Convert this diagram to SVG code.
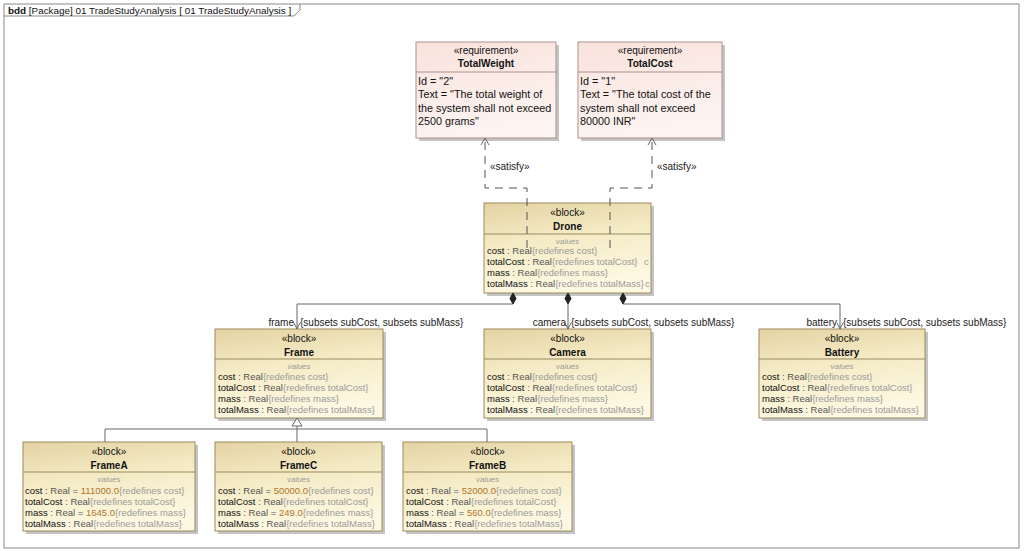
<svg xmlns="http://www.w3.org/2000/svg" width="1024" height="551" viewBox="0 0 1024 551">
<defs>
<linearGradient id="gBlock" x1="0" y1="0" x2="0.25" y2="1">
<stop offset="0" stop-color="#e4d3a3"/>
<stop offset="0.45" stop-color="#f4eac4"/>
<stop offset="1" stop-color="#fdf8e2"/>
</linearGradient>
<linearGradient id="gReq" x1="0" y1="0" x2="0.25" y2="1">
<stop offset="0" stop-color="#f9e2dc"/>
<stop offset="1" stop-color="#fdf4f1"/>
</linearGradient>
</defs>
<style>
text{font-family:"Liberation Sans",Arial,sans-serif;fill:#111}
.frm{fill:#fff;stroke:#8a8a8a;stroke-width:1}
.shadow{fill:#c4c4c4}
.blk{fill:url(#gBlock);stroke:#9c8a5c;stroke-width:1}
.req{fill:url(#gReq);stroke:#b09090;stroke-width:1}
.sepB{stroke:#9c8a5c;stroke-width:1}
.sepR{stroke:#b09090;stroke-width:1}
.st{font-size:10px;text-anchor:middle}
.nm{font-size:10px;font-weight:bold;text-anchor:middle}
.vl{font-size:8px;font-style:italic;fill:#9a9a9a;text-anchor:middle}
.p{font-size:9.5px}
.t{fill:#555}
.r{fill:#9b9b9b}
.v{fill:#b0742a}
.rq{font-size:10.8px}
.lbl{font-size:10px;fill:#222}
.ln{fill:none;stroke:#666;stroke-width:1}
.dash{fill:none;stroke:#555;stroke-width:1;stroke-dasharray:8 6}
.dia{fill:#222;stroke:#222;stroke-width:1}
.tri{fill:#fff;stroke:#666;stroke-width:1}
</style>
<rect width="1024" height="551" fill="#fff"/>
<g id="diagramFrame">
<rect class="frm" x="4" y="4" width="1015" height="544"/>
<path d="M4,16 H294 L300,10 V4" fill="none" stroke="#8a8a8a" stroke-width="1"/>
<text x="8" y="13.5" font-size="9.9"><tspan font-weight="bold">bdd</tspan> [Package] 01 TradeStudyAnalysis [ 01 TradeStudyAnalysis ]</text>
</g>
<g id="TotalWeight">
<rect class="shadow" x="419" y="45" width="140" height="96"/>
<rect class="req" x="416" y="42" width="140" height="96"/>
<text class="st" x="486" y="53.5">«requirement»</text>
<text class="nm" x="486" y="67">TotalWeight</text>
<line class="sepR" x1="416" y1="72" x2="556" y2="72"/>
<text class="rq" x="418" y="84.5">Id = "2"</text>
<text class="rq" x="418" y="98">Text = "The total weight of</text>
<text class="rq" x="418" y="111.5">the system shall not exceed</text>
<text class="rq" x="418" y="125">2500 grams"</text>
</g>
<g id="TotalCost">
<rect class="shadow" x="581" y="45" width="144" height="96"/>
<rect class="req" x="578" y="42" width="144" height="96"/>
<text class="st" x="650" y="53.5">«requirement»</text>
<text class="nm" x="650" y="67">TotalCost</text>
<line class="sepR" x1="578" y1="72" x2="722" y2="72"/>
<text class="rq" x="580" y="84.5">Id = "1"</text>
<text class="rq" x="580" y="98">Text = "The total cost of the</text>
<text class="rq" x="580" y="111.5">system shall not exceed</text>
<text class="rq" x="580" y="125">80000 INR"</text>
</g>
<g id="Drone">
<rect class="shadow" x="487" y="206" width="167" height="90"/>
<rect class="blk" x="484" y="203" width="167" height="90"/>
<text class="st" x="567.5" y="215.5">«block»</text>
<text class="nm" x="567.5" y="229.5">Drone</text>
<line class="sepB" x1="484" y1="234" x2="651" y2="234"/>
<text class="vl" x="567.5" y="243.5">values</text>
<text class="p" x="487" y="254"><tspan>cost</tspan><tspan class="t"> : Real</tspan><tspan class="r">{redefines cost}</tspan></text>
<text class="p" x="487" y="265"><tspan>totalCost</tspan><tspan class="t"> : Real</tspan><tspan class="r">{redefines totalCost}</tspan></text>
<text class="p r" x="644" y="265">c</text>
<text class="p" x="487" y="276"><tspan>mass</tspan><tspan class="t"> : Real</tspan><tspan class="r">{redefines mass}</tspan></text>
<text class="p" x="487" y="287"><tspan>totalMass</tspan><tspan class="t"> : Real</tspan><tspan class="r">{redefines totalMass}</tspan></text>
<text class="p r" x="645" y="287">c</text>
</g>
<g id="Frame">
<rect class="shadow" x="218" y="332" width="168" height="89"/>
<rect class="blk" x="215" y="329" width="168" height="89"/>
<text class="st" x="299" y="341.5">«block»</text>
<text class="nm" x="299" y="355.5">Frame</text>
<line class="sepB" x1="215" y1="359" x2="383" y2="359"/>
<text class="vl" x="299" y="369">values</text>
<text class="p" x="218" y="379.5"><tspan>cost</tspan><tspan class="t"> : Real</tspan><tspan class="r">{redefines cost}</tspan></text>
<text class="p" x="218" y="390.5"><tspan>totalCost</tspan><tspan class="t"> : Real</tspan><tspan class="r">{redefines totalCost}</tspan></text>
<text class="p" x="218" y="401.5"><tspan>mass</tspan><tspan class="t"> : Real</tspan><tspan class="r">{redefines mass}</tspan></text>
<text class="p" x="218" y="412.5"><tspan>totalMass</tspan><tspan class="t"> : Real</tspan><tspan class="r">{redefines totalMass}</tspan></text>
</g>
<g id="Camera">
<rect class="shadow" x="487" y="332" width="167" height="89"/>
<rect class="blk" x="484" y="329" width="167" height="89"/>
<text class="st" x="567.5" y="341.5">«block»</text>
<text class="nm" x="567.5" y="355.5">Camera</text>
<line class="sepB" x1="484" y1="359" x2="651" y2="359"/>
<text class="vl" x="567.5" y="369">values</text>
<text class="p" x="487" y="379.5"><tspan>cost</tspan><tspan class="t"> : Real</tspan><tspan class="r">{redefines cost}</tspan></text>
<text class="p" x="487" y="390.5"><tspan>totalCost</tspan><tspan class="t"> : Real</tspan><tspan class="r">{redefines totalCost}</tspan></text>
<text class="p" x="487" y="401.5"><tspan>mass</tspan><tspan class="t"> : Real</tspan><tspan class="r">{redefines mass}</tspan></text>
<text class="p" x="487" y="412.5"><tspan>totalMass</tspan><tspan class="t"> : Real</tspan><tspan class="r">{redefines totalMass}</tspan></text>
</g>
<g id="Battery">
<rect class="shadow" x="762" y="332" width="166" height="89"/>
<rect class="blk" x="759" y="329" width="166" height="89"/>
<text class="st" x="842" y="341.5">«block»</text>
<text class="nm" x="842" y="355.5">Battery</text>
<line class="sepB" x1="759" y1="359" x2="925" y2="359"/>
<text class="vl" x="842" y="369">values</text>
<text class="p" x="762" y="379.5"><tspan>cost</tspan><tspan class="t"> : Real</tspan><tspan class="r">{redefines cost}</tspan></text>
<text class="p" x="762" y="390.5"><tspan>totalCost</tspan><tspan class="t"> : Real</tspan><tspan class="r">{redefines totalCost}</tspan></text>
<text class="p" x="762" y="401.5"><tspan>mass</tspan><tspan class="t"> : Real</tspan><tspan class="r">{redefines mass}</tspan></text>
<text class="p" x="762" y="412.5"><tspan>totalMass</tspan><tspan class="t"> : Real</tspan><tspan class="r">{redefines totalMass}</tspan></text>
</g>
<g id="FrameA">
<rect class="shadow" x="26" y="445" width="172" height="89"/>
<rect class="blk" x="23" y="442" width="172" height="89"/>
<text class="st" x="109" y="454.5">«block»</text>
<text class="nm" x="109" y="468.5">FrameA</text>
<line class="sepB" x1="23" y1="472" x2="195" y2="472"/>
<text class="vl" x="109" y="481.5">values</text>
<text class="p" x="25" y="493.5"><tspan>cost</tspan><tspan class="t"> : Real = </tspan><tspan class="v">111000.0</tspan><tspan class="r">{redefines cost}</tspan></text>
<text class="p" x="25" y="504.5"><tspan>totalCost</tspan><tspan class="t"> : Real</tspan><tspan class="r">{redefines totalCost}</tspan></text>
<text class="p" x="25" y="515.5"><tspan>mass</tspan><tspan class="t"> : Real = </tspan><tspan class="v">1645.0</tspan><tspan class="r">{redefines mass}</tspan></text>
<text class="p" x="25" y="526.5"><tspan>totalMass</tspan><tspan class="t"> : Real</tspan><tspan class="r">{redefines totalMass}</tspan></text>
</g>
<g id="FrameC">
<rect class="shadow" x="218" y="445" width="167" height="89"/>
<rect class="blk" x="215" y="442" width="167" height="89"/>
<text class="st" x="298.5" y="454.5">«block»</text>
<text class="nm" x="298.5" y="468.5">FrameC</text>
<line class="sepB" x1="215" y1="472" x2="382" y2="472"/>
<text class="vl" x="298.5" y="481.5">values</text>
<text class="p" x="218" y="493.5"><tspan>cost</tspan><tspan class="t"> : Real = </tspan><tspan class="v">50000.0</tspan><tspan class="r">{redefines cost}</tspan></text>
<text class="p" x="218" y="504.5"><tspan>totalCost</tspan><tspan class="t"> : Real</tspan><tspan class="r">{redefines totalCost}</tspan></text>
<text class="p" x="218" y="515.5"><tspan>mass</tspan><tspan class="t"> : Real = </tspan><tspan class="v">249.0</tspan><tspan class="r">{redefines mass}</tspan></text>
<text class="p" x="218" y="526.5"><tspan>totalMass</tspan><tspan class="t"> : Real</tspan><tspan class="r">{redefines totalMass}</tspan></text>
</g>
<g id="FrameB">
<rect class="shadow" x="406" y="445" width="169" height="89"/>
<rect class="blk" x="403" y="442" width="169" height="89"/>
<text class="st" x="487.5" y="454.5">«block»</text>
<text class="nm" x="487.5" y="468.5">FrameB</text>
<line class="sepB" x1="403" y1="472" x2="572" y2="472"/>
<text class="vl" x="487.5" y="481.5">values</text>
<text class="p" x="406" y="493.5"><tspan>cost</tspan><tspan class="t"> : Real = </tspan><tspan class="v">52000.0</tspan><tspan class="r">{redefines cost}</tspan></text>
<text class="p" x="406" y="504.5"><tspan>totalCost</tspan><tspan class="t"> : Real</tspan><tspan class="r">{redefines totalCost}</tspan></text>
<text class="p" x="406" y="515.5"><tspan>mass</tspan><tspan class="t"> : Real = </tspan><tspan class="v">560.0</tspan><tspan class="r">{redefines mass}</tspan></text>
<text class="p" x="406" y="526.5"><tspan>totalMass</tspan><tspan class="t"> : Real</tspan><tspan class="r">{redefines totalMass}</tspan></text>
</g>
<g id="connectors">
<path class="dash" d="M527,248 V188 H485 V140"/>
<path class="ln" d="M481,145 L485,138 L489,145"/>
<text class="lbl" x="490" y="169.5">«satisfy»</text>
<path class="dash" d="M610,248 V188 H652 V140"/>
<path class="ln" d="M648,145 L652,138 L656,145"/>
<text class="lbl" x="657" y="169.5">«satisfy»</text>
<path class="ln" d="M513,304 H297 V329"/>
<path class="dia" d="M513,293 L516,298.5 L513,304 L510,298.5 Z"/>
<path class="ln" d="M294,323 L297,329 L300,323"/>
<text class="lbl" x="294" y="325.5" text-anchor="end">frame</text>
<text class="lbl" x="300" y="325.5">{subsets subCost, subsets subMass}</text>
<path class="ln" d="M568,304 V329"/>
<path class="dia" d="M568,293 L571,298.5 L568,304 L565,298.5 Z"/>
<path class="ln" d="M565,323 L568,329 L571,323"/>
<text class="lbl" x="566" y="325.5" text-anchor="end">camera</text>
<text class="lbl" x="571" y="325.5">{subsets subCost, subsets subMass}</text>
<path class="ln" d="M623,304 H840 V329"/>
<path class="dia" d="M623,293 L626,298.5 L623,304 L620,298.5 Z"/>
<path class="ln" d="M837,323 L840,329 L843,323"/>
<text class="lbl" x="837" y="325.5" text-anchor="end">battery</text>
<text class="lbl" x="843" y="325.5">{subsets subCost, subsets subMass}</text>
<path class="ln" d="M297,426 V442"/>
<path class="ln" d="M105,442 V429 H487 V442"/>
<path class="tri" d="M297,418 L302,426 L292,426 Z"/>
</g>
</svg>
